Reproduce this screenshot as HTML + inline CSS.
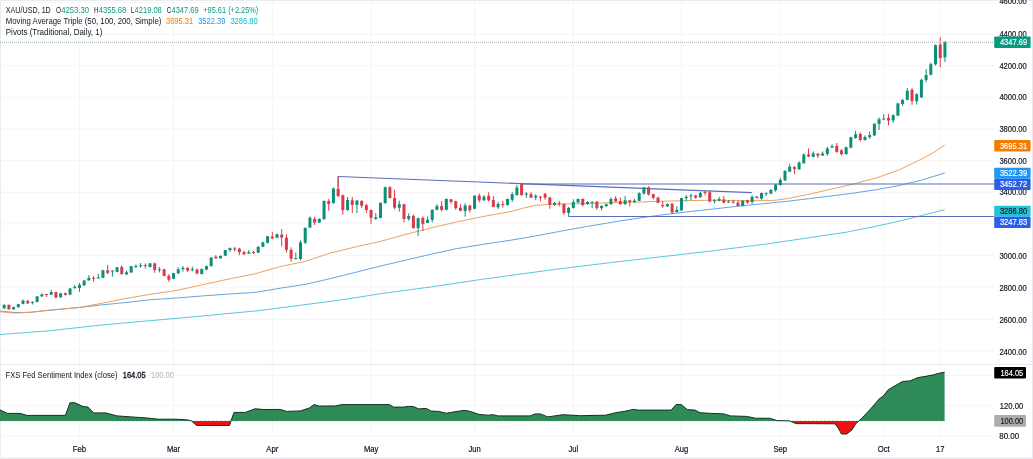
<!DOCTYPE html>
<html><head><meta charset="utf-8"><title>XAU/USD chart</title>
<style>html,body{margin:0;padding:0;background:#fff;}body{width:1033px;height:459px;overflow:hidden;}svg{display:block;will-change:transform}</style>
</head><body>
<svg width="1033" height="459" viewBox="0 0 1033 459" font-family='"Liberation Sans", Arial, sans-serif'>
<rect width="1033" height="459" fill="#ffffff"/>
<g stroke="#f5f5f6" stroke-width="1">
<line x1="0" y1="350.9" x2="993.5" y2="350.9"/>
<line x1="0" y1="319.4" x2="993.5" y2="319.4"/>
<line x1="0" y1="287.2" x2="993.5" y2="287.2"/>
<line x1="0" y1="255.6" x2="993.5" y2="255.6"/>
<line x1="0" y1="223.9" x2="993.5" y2="223.9"/>
<line x1="0" y1="192.3" x2="993.5" y2="192.3"/>
<line x1="0" y1="160.7" x2="993.5" y2="160.7"/>
<line x1="0" y1="129.0" x2="993.5" y2="129.0"/>
<line x1="0" y1="97.4" x2="993.5" y2="97.4"/>
<line x1="0" y1="65.8" x2="993.5" y2="65.8"/>
<line x1="0" y1="34.1" x2="993.5" y2="34.1"/>
<line x1="0" y1="2.5" x2="993.5" y2="2.5"/>
<line x1="0" y1="375.3" x2="993.5" y2="375.3"/>
<line x1="0" y1="405.4" x2="993.5" y2="405.4"/>
<line x1="0" y1="436.2" x2="993.5" y2="436.2"/>
<line x1="79.4" y1="0" x2="79.4" y2="437"/>
<line x1="173.5" y1="0" x2="173.5" y2="437"/>
<line x1="272.3" y1="0" x2="272.3" y2="437"/>
<line x1="371.1" y1="0" x2="371.1" y2="437"/>
<line x1="474.6" y1="0" x2="474.6" y2="437"/>
<line x1="573.3" y1="0" x2="573.3" y2="437"/>
<line x1="681.5" y1="0" x2="681.5" y2="437"/>
<line x1="780.3" y1="0" x2="780.3" y2="437"/>
<line x1="883.8" y1="0" x2="883.8" y2="437"/>
<line x1="940.2" y1="0" x2="940.2" y2="437"/>
</g>
<line x1="0" y1="364.5" x2="1033" y2="364.5" stroke="#eaebee" stroke-width="1"/>
<g fill="#e9ebef">
<rect x="0" y="0" width="1033" height="1"/>
<rect x="0" y="0" width="1" height="459"/>
<rect x="1032" y="0" width="1" height="459"/>
<rect x="0" y="457.5" width="1033" height="1.5"/>
</g>
<polyline points="0.0,334.5 50.3,330.7 100.7,325.1 151.0,320.6 201.4,316.1 260.0,310.5 340.6,300.0 380.8,293.7 431.2,286.9 481.5,279.4 515.0,274.8 560.3,268.7 610.7,262.6 661.0,256.8 711.4,251.0 770.0,243.5 847.4,232.0 876.4,226.2 898.6,221.3 920.9,215.7 944.7,209.7" fill="none" stroke="#48bfd4" stroke-width="0.9" stroke-linejoin="round" />
<polyline points="0.0,311.0 15.0,312.6 30.2,312.3 50.3,310.2 79.3,307.5 100.7,305.0 125.9,302.5 151.0,299.7 176.2,298.0 201.4,296.0 226.5,294.2 255.0,292.4 280.2,288.2 305.3,284.4 330.5,278.6 355.7,272.3 380.8,266.0 406.0,260.0 431.2,254.2 456.4,248.7 481.5,244.6 512.0,240.0 535.2,236.0 560.3,231.3 585.5,226.7 610.7,222.5 635.9,218.5 661.0,215.0 686.2,212.0 711.4,209.2 736.5,206.4 765.0,203.5 787.3,201.3 809.5,198.6 831.8,195.9 854.1,193.0 876.4,189.7 898.6,185.6 920.9,180.3 944.7,173.0" fill="none" stroke="#559ade" stroke-width="0.9" stroke-linejoin="round" />
<polyline points="0.0,311.8 15.1,313.1 30.2,312.3 50.3,310.0 79.3,307.5 100.7,303.5 125.9,298.5 151.0,294.2 176.2,290.5 201.4,285.0 226.5,279.5 255.0,273.8 280.2,266.6 305.3,261.3 330.5,253.0 355.7,246.9 380.8,241.3 406.0,234.3 431.2,227.9 456.4,222.0 481.5,216.8 511.0,211.5 522.6,208.3 535.2,205.4 547.8,204.5 560.3,204.0 585.5,203.5 610.7,202.7 635.9,202.2 661.0,201.2 686.2,200.7 711.4,200.2 736.5,200.6 765.0,200.7 776.1,200.2 787.3,198.6 809.5,194.1 831.8,189.0 854.1,183.9 876.4,177.9 898.6,170.1 920.9,159.4 932.0,153.4 944.7,145.1" fill="none" stroke="#ec954c" stroke-width="0.9" stroke-linejoin="round" />
<g stroke="#5a6ebc" stroke-width="1.1" fill="none">
<line x1="338.1" y1="176.5" x2="751.9" y2="192.6"/>
<line x1="338.1" y1="176.5" x2="338.1" y2="188"/>
<line x1="521.7" y1="184.0" x2="994.5" y2="184.0"/>
<line x1="568.5" y1="216.5" x2="994.5" y2="216.5"/>
</g>
<g shape-rendering="auto">
<rect x="3.69" y="304.1" width="1" height="4.7" fill="#0a8f78"/>
<rect x="2.69" y="304.9" width="3.0" height="3.5" fill="#0a8f78"/>
<rect x="8.39" y="304.5" width="1" height="5.2" fill="#dc3847"/>
<rect x="7.39" y="304.9" width="3.0" height="4.4" fill="#dc3847"/>
<rect x="13.09" y="306.7" width="1" height="3.1" fill="#0a8f78"/>
<rect x="12.09" y="307.1" width="3.0" height="2.2" fill="#0a8f78"/>
<rect x="17.80" y="303.8" width="1" height="3.9" fill="#0a8f78"/>
<rect x="16.80" y="304.1" width="3.0" height="3.0" fill="#0a8f78"/>
<rect x="22.50" y="299.6" width="1" height="4.8" fill="#0a8f78"/>
<rect x="21.50" y="300.6" width="3.0" height="3.3" fill="#0a8f78"/>
<rect x="27.20" y="300.2" width="1" height="3.7" fill="#dc3847"/>
<rect x="26.20" y="300.8" width="3.0" height="2.6" fill="#dc3847"/>
<rect x="31.91" y="301.2" width="1" height="3.3" fill="#0a8f78"/>
<rect x="30.91" y="302.0" width="3.0" height="1.0" fill="#0a8f78"/>
<rect x="36.61" y="296.0" width="1" height="6.5" fill="#0a8f78"/>
<rect x="35.61" y="296.4" width="3.0" height="5.5" fill="#0a8f78"/>
<rect x="41.32" y="293.4" width="1" height="3.4" fill="#0a8f78"/>
<rect x="40.32" y="294.4" width="3.0" height="2.0" fill="#0a8f78"/>
<rect x="46.02" y="294.0" width="1" height="3.0" fill="#dc3847"/>
<rect x="45.02" y="294.0" width="3.0" height="1.0" fill="#dc3847"/>
<rect x="50.72" y="289.7" width="1" height="5.2" fill="#0a8f78"/>
<rect x="49.72" y="292.1" width="3.0" height="2.6" fill="#0a8f78"/>
<rect x="55.43" y="291.8" width="1" height="6.0" fill="#dc3847"/>
<rect x="54.43" y="292.1" width="3.0" height="5.5" fill="#dc3847"/>
<rect x="60.13" y="292.8" width="1" height="5.0" fill="#0a8f78"/>
<rect x="59.13" y="293.4" width="3.0" height="3.9" fill="#0a8f78"/>
<rect x="64.83" y="292.6" width="1" height="2.9" fill="#dc3847"/>
<rect x="63.83" y="293.1" width="3.0" height="1.8" fill="#dc3847"/>
<rect x="69.54" y="288.1" width="1" height="7.1" fill="#0a8f78"/>
<rect x="68.54" y="288.5" width="3.0" height="6.1" fill="#0a8f78"/>
<rect x="74.24" y="284.9" width="1" height="3.7" fill="#0a8f78"/>
<rect x="73.24" y="286.8" width="3.0" height="1.3" fill="#0a8f78"/>
<rect x="78.95" y="282.9" width="1" height="8.9" fill="#0a8f78"/>
<rect x="77.95" y="284.9" width="3.0" height="3.0" fill="#0a8f78"/>
<rect x="83.65" y="280.0" width="1" height="6.1" fill="#0a8f78"/>
<rect x="82.65" y="280.6" width="3.0" height="4.7" fill="#0a8f78"/>
<rect x="88.35" y="275.1" width="1" height="5.6" fill="#0a8f78"/>
<rect x="87.35" y="277.9" width="3.0" height="2.4" fill="#0a8f78"/>
<rect x="93.06" y="276.1" width="1" height="5.5" fill="#dc3847"/>
<rect x="92.06" y="277.8" width="3.0" height="1.0" fill="#dc3847"/>
<rect x="97.76" y="273.8" width="1" height="4.8" fill="#0a8f78"/>
<rect x="96.76" y="277.5" width="3.0" height="1.0" fill="#0a8f78"/>
<rect x="102.46" y="269.9" width="1" height="8.2" fill="#0a8f78"/>
<rect x="101.46" y="270.3" width="3.0" height="7.5" fill="#0a8f78"/>
<rect x="107.17" y="264.9" width="1" height="9.2" fill="#dc3847"/>
<rect x="106.17" y="270.2" width="3.0" height="2.6" fill="#dc3847"/>
<rect x="111.87" y="270.4" width="1" height="6.3" fill="#0a8f78"/>
<rect x="110.87" y="270.5" width="3.0" height="1.0" fill="#0a8f78"/>
<rect x="116.57" y="266.9" width="1" height="5.4" fill="#0a8f78"/>
<rect x="115.57" y="267.3" width="3.0" height="4.6" fill="#0a8f78"/>
<rect x="121.28" y="265.3" width="1" height="9.3" fill="#dc3847"/>
<rect x="120.28" y="267.0" width="3.0" height="7.1" fill="#dc3847"/>
<rect x="125.98" y="270.7" width="1" height="3.9" fill="#0a8f78"/>
<rect x="124.98" y="272.3" width="3.0" height="2.2" fill="#0a8f78"/>
<rect x="130.69" y="266.0" width="1" height="6.8" fill="#0a8f78"/>
<rect x="129.69" y="266.2" width="3.0" height="6.3" fill="#0a8f78"/>
<rect x="135.39" y="264.4" width="1" height="3.7" fill="#0a8f78"/>
<rect x="134.39" y="265.9" width="3.0" height="1.0" fill="#0a8f78"/>
<rect x="140.09" y="263.1" width="1" height="4.4" fill="#0a8f78"/>
<rect x="139.09" y="265.2" width="3.0" height="1.0" fill="#0a8f78"/>
<rect x="144.80" y="263.4" width="1" height="5.2" fill="#dc3847"/>
<rect x="143.80" y="265.0" width="3.0" height="1.0" fill="#dc3847"/>
<rect x="149.50" y="263.0" width="1" height="4.3" fill="#0a8f78"/>
<rect x="148.50" y="263.4" width="3.0" height="3.7" fill="#0a8f78"/>
<rect x="154.20" y="262.8" width="1" height="9.9" fill="#dc3847"/>
<rect x="153.20" y="263.4" width="3.0" height="6.5" fill="#dc3847"/>
<rect x="158.91" y="267.0" width="1" height="5.5" fill="#0a8f78"/>
<rect x="157.91" y="269.3" width="3.0" height="1.0" fill="#0a8f78"/>
<rect x="163.61" y="268.9" width="1" height="7.6" fill="#dc3847"/>
<rect x="162.61" y="269.3" width="3.0" height="6.5" fill="#dc3847"/>
<rect x="168.32" y="274.1" width="1" height="7.6" fill="#dc3847"/>
<rect x="167.32" y="275.9" width="3.0" height="3.8" fill="#dc3847"/>
<rect x="173.02" y="272.8" width="1" height="6.3" fill="#0a8f78"/>
<rect x="172.02" y="273.2" width="3.0" height="5.5" fill="#0a8f78"/>
<rect x="177.72" y="267.3" width="1" height="6.8" fill="#0a8f78"/>
<rect x="176.72" y="269.3" width="3.0" height="3.9" fill="#0a8f78"/>
<rect x="182.43" y="266.2" width="1" height="5.4" fill="#0a8f78"/>
<rect x="181.43" y="267.8" width="3.0" height="1.3" fill="#0a8f78"/>
<rect x="187.13" y="267.0" width="1" height="5.2" fill="#dc3847"/>
<rect x="186.13" y="267.9" width="3.0" height="2.7" fill="#dc3847"/>
<rect x="191.83" y="266.6" width="1" height="4.8" fill="#0a8f78"/>
<rect x="190.83" y="269.2" width="3.0" height="1.0" fill="#0a8f78"/>
<rect x="196.54" y="268.3" width="1" height="6.1" fill="#dc3847"/>
<rect x="195.54" y="269.6" width="3.0" height="3.9" fill="#dc3847"/>
<rect x="201.24" y="268.6" width="1" height="5.9" fill="#0a8f78"/>
<rect x="200.24" y="269.0" width="3.0" height="5.0" fill="#0a8f78"/>
<rect x="205.95" y="265.5" width="1" height="4.6" fill="#0a8f78"/>
<rect x="204.95" y="266.1" width="3.0" height="3.5" fill="#0a8f78"/>
<rect x="210.65" y="257.2" width="1" height="9.4" fill="#0a8f78"/>
<rect x="209.65" y="257.6" width="3.0" height="8.5" fill="#0a8f78"/>
<rect x="215.35" y="255.1" width="1" height="3.7" fill="#dc3847"/>
<rect x="214.35" y="256.7" width="3.0" height="1.6" fill="#dc3847"/>
<rect x="220.06" y="255.5" width="1" height="3.0" fill="#0a8f78"/>
<rect x="219.06" y="255.9" width="3.0" height="2.4" fill="#0a8f78"/>
<rect x="224.76" y="249.8" width="1" height="6.4" fill="#0a8f78"/>
<rect x="223.76" y="250.0" width="3.0" height="5.6" fill="#0a8f78"/>
<rect x="229.46" y="247.5" width="1" height="4.2" fill="#0a8f78"/>
<rect x="228.46" y="248.1" width="3.0" height="2.0" fill="#0a8f78"/>
<rect x="234.17" y="247.0" width="1" height="4.4" fill="#dc3847"/>
<rect x="233.17" y="248.5" width="3.0" height="1.0" fill="#dc3847"/>
<rect x="238.87" y="247.8" width="1" height="7.3" fill="#dc3847"/>
<rect x="237.87" y="248.7" width="3.0" height="3.5" fill="#dc3847"/>
<rect x="243.57" y="250.7" width="1" height="4.4" fill="#dc3847"/>
<rect x="242.57" y="252.2" width="3.0" height="2.1" fill="#dc3847"/>
<rect x="248.28" y="250.0" width="1" height="3.8" fill="#0a8f78"/>
<rect x="247.28" y="252.2" width="3.0" height="1.3" fill="#0a8f78"/>
<rect x="252.98" y="250.9" width="1" height="3.0" fill="#dc3847"/>
<rect x="251.98" y="252.1" width="3.0" height="1.0" fill="#dc3847"/>
<rect x="257.69" y="246.2" width="1" height="6.8" fill="#0a8f78"/>
<rect x="256.69" y="246.8" width="3.0" height="5.9" fill="#0a8f78"/>
<rect x="262.39" y="241.8" width="1" height="5.5" fill="#0a8f78"/>
<rect x="261.39" y="242.3" width="3.0" height="4.4" fill="#0a8f78"/>
<rect x="267.09" y="235.9" width="1" height="7.6" fill="#0a8f78"/>
<rect x="266.09" y="236.3" width="3.0" height="6.5" fill="#0a8f78"/>
<rect x="271.80" y="232.1" width="1" height="7.1" fill="#dc3847"/>
<rect x="270.80" y="236.6" width="3.0" height="1.8" fill="#dc3847"/>
<rect x="276.50" y="233.4" width="1" height="4.8" fill="#0a8f78"/>
<rect x="275.50" y="234.3" width="3.0" height="3.5" fill="#0a8f78"/>
<rect x="281.20" y="229.1" width="1" height="17.4" fill="#dc3847"/>
<rect x="280.20" y="234.6" width="3.0" height="3.0" fill="#dc3847"/>
<rect x="285.91" y="234.2" width="1" height="18.3" fill="#dc3847"/>
<rect x="284.91" y="237.7" width="3.0" height="12.2" fill="#dc3847"/>
<rect x="290.61" y="247.3" width="1" height="14.4" fill="#dc3847"/>
<rect x="289.61" y="249.9" width="3.0" height="8.8" fill="#dc3847"/>
<rect x="295.32" y="252.5" width="1" height="6.9" fill="#0a8f78"/>
<rect x="294.32" y="258.1" width="3.0" height="1.0" fill="#0a8f78"/>
<rect x="300.02" y="240.3" width="1" height="20.0" fill="#0a8f78"/>
<rect x="299.02" y="242.4" width="3.0" height="16.6" fill="#0a8f78"/>
<rect x="304.72" y="227.4" width="1" height="16.6" fill="#0a8f78"/>
<rect x="303.72" y="227.9" width="3.0" height="14.8" fill="#0a8f78"/>
<rect x="309.43" y="216.5" width="1" height="11.5" fill="#0a8f78"/>
<rect x="308.43" y="217.8" width="3.0" height="9.8" fill="#0a8f78"/>
<rect x="314.13" y="216.6" width="1" height="8.4" fill="#dc3847"/>
<rect x="313.13" y="218.9" width="3.0" height="3.7" fill="#dc3847"/>
<rect x="318.83" y="218.3" width="1" height="4.7" fill="#0a8f78"/>
<rect x="317.83" y="218.9" width="3.0" height="3.7" fill="#0a8f78"/>
<rect x="323.54" y="200.6" width="1" height="19.1" fill="#0a8f78"/>
<rect x="322.54" y="200.9" width="3.0" height="18.3" fill="#0a8f78"/>
<rect x="328.24" y="199.0" width="1" height="11.8" fill="#dc3847"/>
<rect x="327.24" y="200.9" width="3.0" height="3.0" fill="#dc3847"/>
<rect x="332.94" y="187.5" width="1" height="16.2" fill="#0a8f78"/>
<rect x="331.94" y="188.5" width="3.0" height="14.6" fill="#0a8f78"/>
<rect x="337.65" y="176.5" width="1" height="20.5" fill="#dc3847"/>
<rect x="336.65" y="188.8" width="3.0" height="7.3" fill="#dc3847"/>
<rect x="342.35" y="194.4" width="1" height="20.3" fill="#dc3847"/>
<rect x="341.35" y="195.3" width="3.0" height="14.8" fill="#dc3847"/>
<rect x="347.06" y="197.0" width="1" height="13.7" fill="#0a8f78"/>
<rect x="346.06" y="200.0" width="3.0" height="10.1" fill="#0a8f78"/>
<rect x="351.76" y="197.0" width="1" height="16.1" fill="#dc3847"/>
<rect x="350.76" y="200.3" width="3.0" height="4.6" fill="#dc3847"/>
<rect x="356.46" y="200.0" width="1" height="13.1" fill="#0a8f78"/>
<rect x="355.46" y="200.6" width="3.0" height="4.3" fill="#0a8f78"/>
<rect x="361.17" y="200.3" width="1" height="7.6" fill="#dc3847"/>
<rect x="360.17" y="200.9" width="3.0" height="4.8" fill="#dc3847"/>
<rect x="365.87" y="203.6" width="1" height="9.2" fill="#dc3847"/>
<rect x="364.87" y="205.3" width="3.0" height="4.8" fill="#dc3847"/>
<rect x="370.57" y="209.4" width="1" height="14.4" fill="#dc3847"/>
<rect x="369.57" y="210.1" width="3.0" height="7.8" fill="#dc3847"/>
<rect x="375.28" y="213.1" width="1" height="6.8" fill="#0a8f78"/>
<rect x="374.28" y="217.3" width="3.0" height="1.6" fill="#0a8f78"/>
<rect x="379.98" y="202.4" width="1" height="15.9" fill="#0a8f78"/>
<rect x="378.98" y="202.9" width="3.0" height="15.0" fill="#0a8f78"/>
<rect x="384.69" y="186.7" width="1" height="17.0" fill="#0a8f78"/>
<rect x="383.69" y="187.2" width="3.0" height="15.9" fill="#0a8f78"/>
<rect x="389.39" y="186.3" width="1" height="12.3" fill="#dc3847"/>
<rect x="388.39" y="187.2" width="3.0" height="10.8" fill="#dc3847"/>
<rect x="394.09" y="189.8" width="1" height="19.6" fill="#dc3847"/>
<rect x="393.09" y="198.0" width="3.0" height="9.7" fill="#dc3847"/>
<rect x="398.80" y="200.7" width="1" height="11.0" fill="#0a8f78"/>
<rect x="397.80" y="204.2" width="3.0" height="3.5" fill="#0a8f78"/>
<rect x="403.50" y="203.8" width="1" height="18.7" fill="#dc3847"/>
<rect x="402.50" y="204.2" width="3.0" height="14.8" fill="#dc3847"/>
<rect x="408.20" y="213.3" width="1" height="7.5" fill="#0a8f78"/>
<rect x="407.20" y="215.9" width="3.0" height="3.0" fill="#0a8f78"/>
<rect x="412.91" y="214.6" width="1" height="14.0" fill="#dc3847"/>
<rect x="411.91" y="215.9" width="3.0" height="12.2" fill="#dc3847"/>
<rect x="417.61" y="217.6" width="1" height="18.3" fill="#0a8f78"/>
<rect x="416.61" y="218.2" width="3.0" height="9.9" fill="#0a8f78"/>
<rect x="422.32" y="216.3" width="1" height="14.6" fill="#dc3847"/>
<rect x="421.32" y="217.9" width="3.0" height="5.9" fill="#dc3847"/>
<rect x="427.02" y="216.6" width="1" height="6.5" fill="#0a8f78"/>
<rect x="426.02" y="219.9" width="3.0" height="3.0" fill="#0a8f78"/>
<rect x="431.72" y="209.4" width="1" height="13.1" fill="#0a8f78"/>
<rect x="430.72" y="209.8" width="3.0" height="10.1" fill="#0a8f78"/>
<rect x="436.43" y="204.2" width="1" height="6.1" fill="#0a8f78"/>
<rect x="435.43" y="206.1" width="3.0" height="3.7" fill="#0a8f78"/>
<rect x="441.13" y="201.2" width="1" height="10.2" fill="#dc3847"/>
<rect x="440.13" y="206.1" width="3.0" height="3.7" fill="#dc3847"/>
<rect x="445.83" y="198.3" width="1" height="12.0" fill="#0a8f78"/>
<rect x="444.83" y="199.0" width="3.0" height="10.8" fill="#0a8f78"/>
<rect x="450.54" y="199.0" width="1" height="4.8" fill="#dc3847"/>
<rect x="449.54" y="199.3" width="3.0" height="2.6" fill="#dc3847"/>
<rect x="455.24" y="200.7" width="1" height="9.2" fill="#dc3847"/>
<rect x="454.24" y="201.2" width="3.0" height="6.9" fill="#dc3847"/>
<rect x="459.94" y="204.2" width="1" height="7.2" fill="#dc3847"/>
<rect x="458.94" y="207.7" width="3.0" height="3.0" fill="#dc3847"/>
<rect x="464.65" y="203.3" width="1" height="13.3" fill="#0a8f78"/>
<rect x="463.65" y="205.5" width="3.0" height="5.6" fill="#0a8f78"/>
<rect x="469.35" y="204.8" width="1" height="7.6" fill="#dc3847"/>
<rect x="468.35" y="205.5" width="3.0" height="4.6" fill="#dc3847"/>
<rect x="474.06" y="195.2" width="1" height="14.1" fill="#0a8f78"/>
<rect x="473.06" y="195.7" width="3.0" height="13.1" fill="#0a8f78"/>
<rect x="478.76" y="193.5" width="1" height="8.9" fill="#dc3847"/>
<rect x="477.76" y="195.5" width="3.0" height="4.8" fill="#dc3847"/>
<rect x="483.46" y="195.1" width="1" height="5.8" fill="#0a8f78"/>
<rect x="482.46" y="196.8" width="3.0" height="3.5" fill="#0a8f78"/>
<rect x="488.17" y="192.2" width="1" height="9.2" fill="#dc3847"/>
<rect x="487.17" y="195.9" width="3.0" height="4.4" fill="#dc3847"/>
<rect x="492.87" y="196.1" width="1" height="11.1" fill="#dc3847"/>
<rect x="491.87" y="200.1" width="3.0" height="6.8" fill="#dc3847"/>
<rect x="497.57" y="202.0" width="1" height="6.9" fill="#0a8f78"/>
<rect x="496.57" y="204.0" width="3.0" height="3.3" fill="#0a8f78"/>
<rect x="502.28" y="200.7" width="1" height="6.9" fill="#dc3847"/>
<rect x="501.28" y="204.0" width="3.0" height="1.0" fill="#dc3847"/>
<rect x="506.98" y="198.5" width="1" height="7.1" fill="#0a8f78"/>
<rect x="505.98" y="199.0" width="3.0" height="6.0" fill="#0a8f78"/>
<rect x="511.69" y="192.2" width="1" height="9.8" fill="#0a8f78"/>
<rect x="510.69" y="194.2" width="3.0" height="5.6" fill="#0a8f78"/>
<rect x="516.39" y="185.0" width="1" height="10.6" fill="#0a8f78"/>
<rect x="515.39" y="187.6" width="3.0" height="7.5" fill="#0a8f78"/>
<rect x="521.09" y="183.3" width="1" height="12.3" fill="#dc3847"/>
<rect x="520.09" y="184.1" width="3.0" height="11.0" fill="#dc3847"/>
<rect x="525.80" y="192.0" width="1" height="5.8" fill="#0a8f78"/>
<rect x="524.80" y="193.7" width="3.0" height="1.0" fill="#0a8f78"/>
<rect x="530.50" y="192.2" width="1" height="5.9" fill="#dc3847"/>
<rect x="529.50" y="194.2" width="3.0" height="3.5" fill="#dc3847"/>
<rect x="535.20" y="194.2" width="1" height="5.9" fill="#0a8f78"/>
<rect x="534.20" y="195.9" width="3.0" height="1.6" fill="#0a8f78"/>
<rect x="539.91" y="196.1" width="1" height="5.2" fill="#dc3847"/>
<rect x="538.91" y="196.6" width="3.0" height="1.0" fill="#dc3847"/>
<rect x="544.61" y="192.9" width="1" height="6.9" fill="#dc3847"/>
<rect x="543.61" y="193.8" width="3.0" height="3.9" fill="#dc3847"/>
<rect x="549.32" y="196.9" width="1" height="11.8" fill="#dc3847"/>
<rect x="548.32" y="197.5" width="3.0" height="7.2" fill="#dc3847"/>
<rect x="554.02" y="202.0" width="1" height="3.9" fill="#0a8f78"/>
<rect x="553.02" y="202.9" width="3.0" height="1.7" fill="#0a8f78"/>
<rect x="558.72" y="200.7" width="1" height="5.6" fill="#dc3847"/>
<rect x="557.72" y="203.3" width="3.0" height="1.0" fill="#dc3847"/>
<rect x="563.43" y="203.5" width="1" height="11.6" fill="#dc3847"/>
<rect x="562.43" y="204.0" width="3.0" height="8.9" fill="#dc3847"/>
<rect x="568.13" y="206.9" width="1" height="9.5" fill="#0a8f78"/>
<rect x="567.13" y="207.9" width="3.0" height="5.0" fill="#0a8f78"/>
<rect x="572.83" y="199.4" width="1" height="9.2" fill="#0a8f78"/>
<rect x="571.83" y="202.0" width="3.0" height="5.9" fill="#0a8f78"/>
<rect x="577.54" y="198.5" width="1" height="4.4" fill="#0a8f78"/>
<rect x="576.54" y="199.0" width="3.0" height="3.4" fill="#0a8f78"/>
<rect x="582.24" y="198.1" width="1" height="8.2" fill="#dc3847"/>
<rect x="581.24" y="199.0" width="3.0" height="6.0" fill="#dc3847"/>
<rect x="586.94" y="201.1" width="1" height="3.7" fill="#0a8f78"/>
<rect x="585.94" y="202.0" width="3.0" height="2.2" fill="#0a8f78"/>
<rect x="591.65" y="201.4" width="1" height="6.8" fill="#0a8f78"/>
<rect x="590.65" y="201.7" width="3.0" height="1.0" fill="#0a8f78"/>
<rect x="596.35" y="201.1" width="1" height="8.8" fill="#dc3847"/>
<rect x="595.35" y="201.6" width="3.0" height="6.5" fill="#dc3847"/>
<rect x="601.06" y="205.3" width="1" height="5.2" fill="#0a8f78"/>
<rect x="600.06" y="205.9" width="3.0" height="2.2" fill="#0a8f78"/>
<rect x="605.76" y="203.7" width="1" height="3.1" fill="#0a8f78"/>
<rect x="604.76" y="204.2" width="3.0" height="2.1" fill="#0a8f78"/>
<rect x="610.46" y="197.2" width="1" height="7.6" fill="#0a8f78"/>
<rect x="609.46" y="199.0" width="3.0" height="5.2" fill="#0a8f78"/>
<rect x="615.17" y="196.1" width="1" height="5.8" fill="#dc3847"/>
<rect x="614.17" y="198.5" width="3.0" height="2.9" fill="#dc3847"/>
<rect x="619.87" y="197.5" width="1" height="7.3" fill="#dc3847"/>
<rect x="618.87" y="201.1" width="3.0" height="3.1" fill="#dc3847"/>
<rect x="624.57" y="196.1" width="1" height="8.6" fill="#0a8f78"/>
<rect x="623.57" y="200.3" width="3.0" height="3.9" fill="#0a8f78"/>
<rect x="629.28" y="199.8" width="1" height="6.5" fill="#dc3847"/>
<rect x="628.28" y="200.3" width="3.0" height="1.7" fill="#dc3847"/>
<rect x="633.98" y="199.0" width="1" height="3.7" fill="#0a8f78"/>
<rect x="632.98" y="200.7" width="3.0" height="1.3" fill="#0a8f78"/>
<rect x="638.69" y="192.2" width="1" height="8.9" fill="#0a8f78"/>
<rect x="637.69" y="193.3" width="3.0" height="7.5" fill="#0a8f78"/>
<rect x="643.39" y="187.0" width="1" height="7.8" fill="#0a8f78"/>
<rect x="642.39" y="187.4" width="3.0" height="6.1" fill="#0a8f78"/>
<rect x="648.09" y="186.3" width="1" height="9.2" fill="#dc3847"/>
<rect x="647.09" y="187.4" width="3.0" height="7.2" fill="#dc3847"/>
<rect x="652.80" y="193.8" width="1" height="5.6" fill="#dc3847"/>
<rect x="651.80" y="194.2" width="3.0" height="3.5" fill="#dc3847"/>
<rect x="657.50" y="196.8" width="1" height="6.5" fill="#dc3847"/>
<rect x="656.50" y="197.5" width="3.0" height="5.2" fill="#dc3847"/>
<rect x="662.20" y="201.4" width="1" height="6.3" fill="#dc3847"/>
<rect x="661.20" y="205.0" width="3.0" height="1.3" fill="#dc3847"/>
<rect x="666.91" y="203.3" width="1" height="3.5" fill="#0a8f78"/>
<rect x="665.91" y="204.0" width="3.0" height="2.4" fill="#0a8f78"/>
<rect x="671.61" y="203.2" width="1" height="10.6" fill="#dc3847"/>
<rect x="670.61" y="203.7" width="3.0" height="8.8" fill="#dc3847"/>
<rect x="676.32" y="206.3" width="1" height="6.1" fill="#0a8f78"/>
<rect x="675.32" y="209.9" width="3.0" height="2.2" fill="#0a8f78"/>
<rect x="681.02" y="197.7" width="1" height="13.1" fill="#0a8f78"/>
<rect x="680.02" y="198.1" width="3.0" height="12.2" fill="#0a8f78"/>
<rect x="685.72" y="195.1" width="1" height="6.3" fill="#0a8f78"/>
<rect x="684.72" y="196.8" width="3.0" height="1.3" fill="#0a8f78"/>
<rect x="690.43" y="193.8" width="1" height="6.5" fill="#0a8f78"/>
<rect x="689.43" y="195.3" width="3.0" height="1.0" fill="#0a8f78"/>
<rect x="695.13" y="194.8" width="1" height="3.9" fill="#dc3847"/>
<rect x="694.13" y="195.5" width="3.0" height="2.2" fill="#dc3847"/>
<rect x="699.83" y="192.0" width="1" height="5.8" fill="#0a8f78"/>
<rect x="698.83" y="192.9" width="3.0" height="4.3" fill="#0a8f78"/>
<rect x="704.54" y="190.9" width="1" height="4.6" fill="#dc3847"/>
<rect x="703.54" y="191.9" width="3.0" height="1.0" fill="#dc3847"/>
<rect x="709.24" y="190.7" width="1" height="11.5" fill="#dc3847"/>
<rect x="708.24" y="192.2" width="3.0" height="9.4" fill="#dc3847"/>
<rect x="713.94" y="199.0" width="1" height="4.3" fill="#0a8f78"/>
<rect x="712.94" y="200.3" width="3.0" height="1.0" fill="#0a8f78"/>
<rect x="718.65" y="196.8" width="1" height="4.6" fill="#0a8f78"/>
<rect x="717.65" y="199.0" width="3.0" height="1.7" fill="#0a8f78"/>
<rect x="723.35" y="196.1" width="1" height="7.1" fill="#dc3847"/>
<rect x="722.35" y="199.4" width="3.0" height="3.3" fill="#dc3847"/>
<rect x="728.06" y="200.1" width="1" height="2.6" fill="#0a8f78"/>
<rect x="727.06" y="201.5" width="3.0" height="1.0" fill="#0a8f78"/>
<rect x="732.76" y="199.8" width="1" height="3.9" fill="#dc3847"/>
<rect x="731.76" y="201.5" width="3.0" height="1.0" fill="#dc3847"/>
<rect x="737.46" y="200.3" width="1" height="6.0" fill="#dc3847"/>
<rect x="736.46" y="202.7" width="3.0" height="3.3" fill="#dc3847"/>
<rect x="742.17" y="200.3" width="1" height="6.0" fill="#0a8f78"/>
<rect x="741.17" y="200.7" width="3.0" height="5.2" fill="#0a8f78"/>
<rect x="746.87" y="199.8" width="1" height="3.9" fill="#dc3847"/>
<rect x="745.87" y="200.3" width="3.0" height="2.4" fill="#dc3847"/>
<rect x="751.57" y="195.5" width="1" height="8.8" fill="#0a8f78"/>
<rect x="750.57" y="196.8" width="3.0" height="5.2" fill="#0a8f78"/>
<rect x="756.28" y="196.1" width="1" height="2.3" fill="#dc3847"/>
<rect x="755.28" y="196.7" width="3.0" height="1.2" fill="#dc3847"/>
<rect x="760.98" y="192.6" width="1" height="7.2" fill="#0a8f78"/>
<rect x="759.98" y="193.0" width="3.0" height="5.6" fill="#0a8f78"/>
<rect x="765.69" y="192.6" width="1" height="3.5" fill="#0a8f78"/>
<rect x="764.69" y="192.9" width="3.0" height="1.0" fill="#0a8f78"/>
<rect x="770.39" y="189.1" width="1" height="5.0" fill="#0a8f78"/>
<rect x="769.39" y="190.0" width="3.0" height="3.7" fill="#0a8f78"/>
<rect x="775.09" y="183.9" width="1" height="7.9" fill="#0a8f78"/>
<rect x="774.09" y="184.5" width="3.0" height="5.8" fill="#0a8f78"/>
<rect x="779.80" y="178.1" width="1" height="7.6" fill="#0a8f78"/>
<rect x="778.80" y="179.9" width="3.0" height="5.0" fill="#0a8f78"/>
<rect x="784.50" y="170.2" width="1" height="10.7" fill="#0a8f78"/>
<rect x="783.50" y="170.9" width="3.0" height="9.5" fill="#0a8f78"/>
<rect x="789.20" y="163.6" width="1" height="8.4" fill="#0a8f78"/>
<rect x="788.20" y="166.7" width="3.0" height="4.9" fill="#0a8f78"/>
<rect x="793.91" y="166.2" width="1" height="8.1" fill="#dc3847"/>
<rect x="792.91" y="167.1" width="3.0" height="1.8" fill="#dc3847"/>
<rect x="798.61" y="161.3" width="1" height="8.5" fill="#0a8f78"/>
<rect x="797.61" y="162.6" width="3.0" height="6.7" fill="#0a8f78"/>
<rect x="803.32" y="153.4" width="1" height="10.4" fill="#0a8f78"/>
<rect x="802.32" y="154.5" width="3.0" height="8.7" fill="#0a8f78"/>
<rect x="808.02" y="148.4" width="1" height="8.7" fill="#dc3847"/>
<rect x="807.02" y="154.5" width="3.0" height="2.0" fill="#dc3847"/>
<rect x="812.72" y="151.4" width="1" height="5.9" fill="#0a8f78"/>
<rect x="811.72" y="153.4" width="3.0" height="3.4" fill="#0a8f78"/>
<rect x="817.43" y="153.1" width="1" height="4.9" fill="#dc3847"/>
<rect x="816.43" y="153.7" width="3.0" height="2.0" fill="#dc3847"/>
<rect x="822.13" y="151.4" width="1" height="4.6" fill="#0a8f78"/>
<rect x="821.13" y="153.4" width="3.0" height="2.1" fill="#0a8f78"/>
<rect x="826.83" y="146.9" width="1" height="9.1" fill="#0a8f78"/>
<rect x="825.83" y="148.4" width="3.0" height="5.6" fill="#0a8f78"/>
<rect x="831.54" y="144.3" width="1" height="3.7" fill="#0a8f78"/>
<rect x="830.54" y="146.1" width="3.0" height="1.5" fill="#0a8f78"/>
<rect x="836.24" y="143.0" width="1" height="9.9" fill="#dc3847"/>
<rect x="835.24" y="145.8" width="3.0" height="6.1" fill="#dc3847"/>
<rect x="840.94" y="149.1" width="1" height="6.4" fill="#dc3847"/>
<rect x="839.94" y="150.4" width="3.0" height="3.7" fill="#dc3847"/>
<rect x="845.65" y="146.7" width="1" height="8.1" fill="#0a8f78"/>
<rect x="844.65" y="147.2" width="3.0" height="6.9" fill="#0a8f78"/>
<rect x="850.35" y="136.6" width="1" height="11.6" fill="#0a8f78"/>
<rect x="849.35" y="137.3" width="3.0" height="10.4" fill="#0a8f78"/>
<rect x="855.06" y="130.9" width="1" height="7.9" fill="#0a8f78"/>
<rect x="854.06" y="134.2" width="3.0" height="3.8" fill="#0a8f78"/>
<rect x="859.76" y="132.4" width="1" height="9.1" fill="#dc3847"/>
<rect x="858.76" y="133.9" width="3.0" height="6.1" fill="#dc3847"/>
<rect x="864.46" y="135.4" width="1" height="5.2" fill="#0a8f78"/>
<rect x="863.46" y="137.0" width="3.0" height="3.0" fill="#0a8f78"/>
<rect x="869.17" y="131.5" width="1" height="7.3" fill="#0a8f78"/>
<rect x="868.17" y="135.1" width="3.0" height="2.1" fill="#0a8f78"/>
<rect x="873.87" y="123.2" width="1" height="12.8" fill="#0a8f78"/>
<rect x="872.87" y="123.8" width="3.0" height="11.6" fill="#0a8f78"/>
<rect x="878.57" y="117.4" width="1" height="12.5" fill="#0a8f78"/>
<rect x="877.57" y="119.3" width="3.0" height="4.6" fill="#0a8f78"/>
<rect x="883.28" y="114.1" width="1" height="6.1" fill="#0a8f78"/>
<rect x="882.28" y="118.6" width="3.0" height="1.0" fill="#0a8f78"/>
<rect x="887.98" y="114.1" width="1" height="11.3" fill="#dc3847"/>
<rect x="886.98" y="117.9" width="3.0" height="2.6" fill="#dc3847"/>
<rect x="892.69" y="114.4" width="1" height="8.4" fill="#0a8f78"/>
<rect x="891.69" y="115.2" width="3.0" height="5.3" fill="#0a8f78"/>
<rect x="897.39" y="102.8" width="1" height="13.1" fill="#0a8f78"/>
<rect x="896.39" y="103.4" width="3.0" height="12.2" fill="#0a8f78"/>
<rect x="902.09" y="99.1" width="1" height="6.9" fill="#0a8f78"/>
<rect x="901.09" y="99.9" width="3.0" height="4.1" fill="#0a8f78"/>
<rect x="906.80" y="88.1" width="1" height="12.2" fill="#0a8f78"/>
<rect x="905.80" y="90.7" width="3.0" height="9.1" fill="#0a8f78"/>
<rect x="911.50" y="88.1" width="1" height="16.6" fill="#dc3847"/>
<rect x="910.50" y="89.8" width="3.0" height="11.3" fill="#dc3847"/>
<rect x="916.20" y="93.3" width="1" height="11.3" fill="#0a8f78"/>
<rect x="915.20" y="94.2" width="3.0" height="7.0" fill="#0a8f78"/>
<rect x="920.91" y="78.5" width="1" height="19.5" fill="#0a8f78"/>
<rect x="919.91" y="79.9" width="3.0" height="17.4" fill="#0a8f78"/>
<rect x="925.61" y="68.9" width="1" height="13.4" fill="#0a8f78"/>
<rect x="924.61" y="75.0" width="3.0" height="4.9" fill="#0a8f78"/>
<rect x="930.31" y="62.5" width="1" height="12.9" fill="#0a8f78"/>
<rect x="929.31" y="64.2" width="3.0" height="10.5" fill="#0a8f78"/>
<rect x="935.02" y="44.4" width="1" height="21.1" fill="#0a8f78"/>
<rect x="934.02" y="45.1" width="3.0" height="19.2" fill="#0a8f78"/>
<rect x="939.72" y="37.1" width="1" height="30.1" fill="#dc3847"/>
<rect x="938.72" y="44.6" width="3.0" height="13.4" fill="#dc3847"/>
<rect x="944.43" y="41.1" width="1" height="20.9" fill="#0a8f78"/>
<rect x="943.43" y="41.9" width="3.0" height="15.3" fill="#0a8f78"/>
</g>
<line x1="0" y1="42.3" x2="993.5" y2="42.3" stroke="#a3b8b2" stroke-width="1" stroke-dasharray="1 1"/>
<defs><clipPath id="up"><rect x="0" y="360" width="1033" height="60.89999999999998"/></clipPath><clipPath id="dn"><rect x="0" y="420.9" width="1033" height="40"/></clipPath></defs>
<path d="M0,420.9 L0.0,409.9 L7.5,413.4 L20.0,413.4 L27.0,415.4 L65.4,415.4 L70.0,402.8 L75.0,402.8 L83.0,406.6 L88.0,407.1 L93.6,412.9 L105.7,412.9 L117.0,415.9 L131.0,416.9 L146.0,417.9 L158.6,419.2 L176.2,419.2 L187.5,419.9 L191.3,420.9 L196.8,425.5 L229.5,425.5 L231.0,420.9 L234.0,412.4 L245.4,412.4 L255.0,408.8 L265.0,409.6 L280.2,409.4 L286.5,411.4 L300.3,410.9 L309.1,408.1 L314.1,404.6 L319.2,406.1 L335.5,405.9 L341.8,404.6 L389.7,404.6 L393.4,407.1 L403.5,407.1 L408.5,406.4 L413.6,406.6 L418.6,408.9 L426.2,408.4 L431.2,411.1 L438.7,411.4 L446.3,413.2 L453.8,411.9 L463.9,410.4 L469.0,411.1 L479.0,414.4 L487.8,415.2 L492.9,414.7 L497.9,415.9 L530.1,415.9 L535.2,413.9 L540.2,413.9 L547.8,416.9 L562.9,414.7 L580.5,415.7 L605.6,415.2 L615.7,412.7 L625.8,411.1 L633.3,409.4 L638.4,410.1 L671.1,410.1 L676.1,404.6 L681.2,404.6 L687.4,409.6 L695.0,410.1 L700.0,412.7 L711.4,413.4 L723.9,413.9 L730.2,415.9 L746.6,416.4 L755.4,418.2 L770.2,418.3 L776.7,420.6 L789.6,420.9 L796.1,423.6 L835.0,423.8 L838.2,428.0 L841.5,434.0 L846.7,434.0 L851.9,430.0 L855.8,423.6 L858.9,420.9 L864.9,415.0 L871.4,408.0 L879.2,398.9 L883.0,396.3 L888.2,389.8 L894.7,385.9 L902.5,381.5 L910.3,380.8 L918.0,377.6 L925.9,376.3 L933.7,374.8 L940.1,373.0 L944.6,372.2 L944.6,420.9 Z" fill="#2e8b57" clip-path="url(#up)"/>
<path d="M0,420.9 L0.0,409.9 L7.5,413.4 L20.0,413.4 L27.0,415.4 L65.4,415.4 L70.0,402.8 L75.0,402.8 L83.0,406.6 L88.0,407.1 L93.6,412.9 L105.7,412.9 L117.0,415.9 L131.0,416.9 L146.0,417.9 L158.6,419.2 L176.2,419.2 L187.5,419.9 L191.3,420.9 L196.8,425.5 L229.5,425.5 L231.0,420.9 L234.0,412.4 L245.4,412.4 L255.0,408.8 L265.0,409.6 L280.2,409.4 L286.5,411.4 L300.3,410.9 L309.1,408.1 L314.1,404.6 L319.2,406.1 L335.5,405.9 L341.8,404.6 L389.7,404.6 L393.4,407.1 L403.5,407.1 L408.5,406.4 L413.6,406.6 L418.6,408.9 L426.2,408.4 L431.2,411.1 L438.7,411.4 L446.3,413.2 L453.8,411.9 L463.9,410.4 L469.0,411.1 L479.0,414.4 L487.8,415.2 L492.9,414.7 L497.9,415.9 L530.1,415.9 L535.2,413.9 L540.2,413.9 L547.8,416.9 L562.9,414.7 L580.5,415.7 L605.6,415.2 L615.7,412.7 L625.8,411.1 L633.3,409.4 L638.4,410.1 L671.1,410.1 L676.1,404.6 L681.2,404.6 L687.4,409.6 L695.0,410.1 L700.0,412.7 L711.4,413.4 L723.9,413.9 L730.2,415.9 L746.6,416.4 L755.4,418.2 L770.2,418.3 L776.7,420.6 L789.6,420.9 L796.1,423.6 L835.0,423.8 L838.2,428.0 L841.5,434.0 L846.7,434.0 L851.9,430.0 L855.8,423.6 L858.9,420.9 L864.9,415.0 L871.4,408.0 L879.2,398.9 L883.0,396.3 L888.2,389.8 L894.7,385.9 L902.5,381.5 L910.3,380.8 L918.0,377.6 L925.9,376.3 L933.7,374.8 L940.1,373.0 L944.6,372.2 L944.6,420.9 Z" fill="#ee1111" clip-path="url(#dn)"/>
<polyline points="0.0,409.9 7.5,413.4 20.0,413.4 27.0,415.4 65.4,415.4 70.0,402.8 75.0,402.8 83.0,406.6 88.0,407.1 93.6,412.9 105.7,412.9 117.0,415.9 131.0,416.9 146.0,417.9 158.6,419.2 176.2,419.2 187.5,419.9 191.3,420.9 196.8,425.5 229.5,425.5 231.0,420.9 234.0,412.4 245.4,412.4 255.0,408.8 265.0,409.6 280.2,409.4 286.5,411.4 300.3,410.9 309.1,408.1 314.1,404.6 319.2,406.1 335.5,405.9 341.8,404.6 389.7,404.6 393.4,407.1 403.5,407.1 408.5,406.4 413.6,406.6 418.6,408.9 426.2,408.4 431.2,411.1 438.7,411.4 446.3,413.2 453.8,411.9 463.9,410.4 469.0,411.1 479.0,414.4 487.8,415.2 492.9,414.7 497.9,415.9 530.1,415.9 535.2,413.9 540.2,413.9 547.8,416.9 562.9,414.7 580.5,415.7 605.6,415.2 615.7,412.7 625.8,411.1 633.3,409.4 638.4,410.1 671.1,410.1 676.1,404.6 681.2,404.6 687.4,409.6 695.0,410.1 700.0,412.7 711.4,413.4 723.9,413.9 730.2,415.9 746.6,416.4 755.4,418.2 770.2,418.3 776.7,420.6 789.6,420.9 796.1,423.6 835.0,423.8 838.2,428.0 841.5,434.0 846.7,434.0 851.9,430.0 855.8,423.6 858.9,420.9 864.9,415.0 871.4,408.0 879.2,398.9 883.0,396.3 888.2,389.8 894.7,385.9 902.5,381.5 910.3,380.8 918.0,377.6 925.9,376.3 933.7,374.8 940.1,373.0 944.6,372.2" fill="none" stroke="#12301f" stroke-width="1.0" stroke-linejoin="round" />
<line x1="0" y1="420.9" x2="944.6" y2="420.9" stroke="#2e8b57" stroke-width="0.6" stroke-dasharray="2 2" opacity="0.6"/>
<text x="5.8" y="12.8" font-size="8.4" fill="#131722" text-anchor="start" font-weight="normal" textLength="45.0" lengthAdjust="spacingAndGlyphs" >XAU/USD, 1D</text>
<text x="55.9" y="12.8" font-size="8.4" fill="#131722" text-anchor="start" font-weight="normal" textLength="5.0" lengthAdjust="spacingAndGlyphs" >O</text>
<text x="61.2" y="12.8" font-size="8.4" fill="#089981" text-anchor="start" font-weight="normal" textLength="27.8" lengthAdjust="spacingAndGlyphs" >4253.30</text>
<text x="93.9" y="12.8" font-size="8.4" fill="#131722" text-anchor="start" font-weight="normal" textLength="4.6" lengthAdjust="spacingAndGlyphs" >H</text>
<text x="98.8" y="12.8" font-size="8.4" fill="#089981" text-anchor="start" font-weight="normal" textLength="27.4" lengthAdjust="spacingAndGlyphs" >4355.68</text>
<text x="130.8" y="12.8" font-size="8.4" fill="#131722" text-anchor="start" font-weight="normal" textLength="3.6" lengthAdjust="spacingAndGlyphs" >L</text>
<text x="134.6" y="12.8" font-size="8.4" fill="#089981" text-anchor="start" font-weight="normal" textLength="27.2" lengthAdjust="spacingAndGlyphs" >4219.08</text>
<text x="166.7" y="12.8" font-size="8.4" fill="#131722" text-anchor="start" font-weight="normal" textLength="4.6" lengthAdjust="spacingAndGlyphs" >C</text>
<text x="171.5" y="12.8" font-size="8.4" fill="#089981" text-anchor="start" font-weight="normal" textLength="27.2" lengthAdjust="spacingAndGlyphs" >4347.69</text>
<text x="203.3" y="12.8" font-size="8.4" fill="#089981" text-anchor="start" font-weight="normal" textLength="55.0" lengthAdjust="spacingAndGlyphs" >+95.61 (+2.25%)</text>
<text x="5.8" y="24.1" font-size="8.4" fill="#131722" text-anchor="start" font-weight="normal" textLength="155.5" lengthAdjust="spacingAndGlyphs" >Moving Average Triple (50, 100, 200, Simple)</text>
<text x="166.0" y="24.1" font-size="8.4" fill="#f57c00" text-anchor="start" font-weight="normal" textLength="27.2" lengthAdjust="spacingAndGlyphs" >3695.31</text>
<text x="198.2" y="24.1" font-size="8.4" fill="#2196f3" text-anchor="start" font-weight="normal" textLength="27.2" lengthAdjust="spacingAndGlyphs" >3522.39</text>
<text x="230.4" y="24.1" font-size="8.4" fill="#00bcd4" text-anchor="start" font-weight="normal" textLength="27.2" lengthAdjust="spacingAndGlyphs" >3286.80</text>
<text x="5.8" y="35.4" font-size="8.4" fill="#131722" text-anchor="start" font-weight="normal" textLength="96.5" lengthAdjust="spacingAndGlyphs" >Pivots (Traditional, Daily, 1)</text>
<text x="5.5" y="377.8" font-size="8.4" fill="#131722" text-anchor="start" font-weight="normal" textLength="112.0" lengthAdjust="spacingAndGlyphs" >FXS Fed Sentiment Index (close)</text>
<text x="122.8" y="377.8" font-size="8.4" fill="#131722" text-anchor="start" font-weight="normal" textLength="22.8" lengthAdjust="spacingAndGlyphs" stroke="#131722" stroke-width="0.35">164.05</text>
<text x="151.0" y="377.8" font-size="8.4" fill="#b2b5be" text-anchor="start" font-weight="normal" textLength="22.8" lengthAdjust="spacingAndGlyphs" >100.00</text>
<text x="1026.8" y="355.2" font-size="8.4" fill="#131722" text-anchor="end" font-weight="normal" textLength="27.4" lengthAdjust="spacingAndGlyphs" stroke="#131722" stroke-width="0.18">2400.00</text>
<text x="1026.8" y="323.0" font-size="8.4" fill="#131722" text-anchor="end" font-weight="normal" textLength="27.4" lengthAdjust="spacingAndGlyphs" stroke="#131722" stroke-width="0.18">2600.00</text>
<text x="1026.8" y="291.2" font-size="8.4" fill="#131722" text-anchor="end" font-weight="normal" textLength="27.4" lengthAdjust="spacingAndGlyphs" stroke="#131722" stroke-width="0.18">2800.00</text>
<text x="1026.8" y="258.6" font-size="8.4" fill="#131722" text-anchor="end" font-weight="normal" textLength="27.4" lengthAdjust="spacingAndGlyphs" stroke="#131722" stroke-width="0.18">3000.00</text>
<text x="1026.8" y="226.9" font-size="8.4" fill="#131722" text-anchor="end" font-weight="normal" textLength="27.4" lengthAdjust="spacingAndGlyphs" stroke="#131722" stroke-width="0.18">3200.00</text>
<text x="1026.8" y="195.3" font-size="8.4" fill="#131722" text-anchor="end" font-weight="normal" textLength="27.4" lengthAdjust="spacingAndGlyphs" stroke="#131722" stroke-width="0.18">3400.00</text>
<text x="1026.8" y="163.7" font-size="8.4" fill="#131722" text-anchor="end" font-weight="normal" textLength="27.4" lengthAdjust="spacingAndGlyphs" stroke="#131722" stroke-width="0.18">3600.00</text>
<text x="1026.8" y="132.0" font-size="8.4" fill="#131722" text-anchor="end" font-weight="normal" textLength="27.4" lengthAdjust="spacingAndGlyphs" stroke="#131722" stroke-width="0.18">3800.00</text>
<text x="1026.8" y="100.4" font-size="8.4" fill="#131722" text-anchor="end" font-weight="normal" textLength="27.4" lengthAdjust="spacingAndGlyphs" stroke="#131722" stroke-width="0.18">4000.00</text>
<text x="1026.8" y="68.8" font-size="8.4" fill="#131722" text-anchor="end" font-weight="normal" textLength="27.4" lengthAdjust="spacingAndGlyphs" stroke="#131722" stroke-width="0.18">4200.00</text>
<text x="1026.8" y="37.1" font-size="8.4" fill="#131722" text-anchor="end" font-weight="normal" textLength="27.4" lengthAdjust="spacingAndGlyphs" stroke="#131722" stroke-width="0.18">4400.00</text>
<text x="1026.8" y="4.3" font-size="8.4" fill="#131722" text-anchor="end" font-weight="normal" textLength="27.4" lengthAdjust="spacingAndGlyphs" stroke="#131722" stroke-width="0.18">4600.00</text>
<text x="1023.2" y="409.1" font-size="8.4" fill="#131722" text-anchor="end" font-weight="normal" textLength="23.4" lengthAdjust="spacingAndGlyphs" stroke="#131722" stroke-width="0.18">120.00</text>
<text x="1019.2" y="439.1" font-size="8.4" fill="#131722" text-anchor="end" font-weight="normal" textLength="20.0" lengthAdjust="spacingAndGlyphs" stroke="#131722" stroke-width="0.18">80.00</text>
<rect x="994.2" y="36.5" width="36.4" height="11.4" fill="#089981" rx="1"/>
<text x="1013.5" y="45.2" font-size="8.4" fill="#ffffff" text-anchor="middle" font-weight="normal" textLength="27.2" lengthAdjust="spacingAndGlyphs" stroke="#ffffff" stroke-width="0.15">4347.69</text>
<rect x="994.2" y="140.1" width="36.4" height="11.4" fill="#f57c00" rx="1"/>
<text x="1013.5" y="148.8" font-size="8.4" fill="#ffffff" text-anchor="middle" font-weight="normal" textLength="27.2" lengthAdjust="spacingAndGlyphs" stroke="#ffffff" stroke-width="0.15">3695.31</text>
<rect x="994.2" y="167.7" width="36.4" height="11.0" fill="#2196f3" rx="1"/>
<text x="1013.5" y="176.2" font-size="8.4" fill="#ffffff" text-anchor="middle" font-weight="normal" textLength="27.2" lengthAdjust="spacingAndGlyphs" stroke="#ffffff" stroke-width="0.15">3522.39</text>
<rect x="994.2" y="178.7" width="36.4" height="11.2" fill="#2a5fe8" rx="1"/>
<text x="1013.5" y="187.3" font-size="8.4" fill="#ffffff" text-anchor="middle" font-weight="normal" textLength="27.2" lengthAdjust="spacingAndGlyphs" stroke="#ffffff" stroke-width="0.15">3452.72</text>
<rect x="994.2" y="205.7" width="36.4" height="11.0" fill="#22c3d6" rx="1"/>
<text x="1013.5" y="214.2" font-size="8.4" fill="#131722" text-anchor="middle" font-weight="normal" textLength="27.2" lengthAdjust="spacingAndGlyphs" stroke="#131722" stroke-width="0.15">3286.80</text>
<rect x="994.2" y="216.7" width="36.4" height="11.4" fill="#2a5fe8" rx="1"/>
<text x="1013.5" y="225.4" font-size="8.4" fill="#ffffff" text-anchor="middle" font-weight="normal" textLength="27.2" lengthAdjust="spacingAndGlyphs" stroke="#ffffff" stroke-width="0.15">3247.83</text>
<rect x="994.2" y="367.1" width="31.8" height="11.4" fill="#000000" rx="1"/>
<text x="1011.8" y="375.8" font-size="8.4" fill="#ffffff" text-anchor="middle" font-weight="normal" textLength="22.8" lengthAdjust="spacingAndGlyphs" stroke="#ffffff" stroke-width="0.15">164.05</text>
<rect x="994.2" y="415.0" width="31.8" height="11.7" fill="#adadad" rx="1"/>
<text x="1011.8" y="423.9" font-size="8.4" fill="#131722" text-anchor="middle" font-weight="normal" textLength="22.8" lengthAdjust="spacingAndGlyphs" stroke="#131722" stroke-width="0.15">100.00</text>
<text x="79.4" y="452.1" font-size="8.4" fill="#131722" text-anchor="middle" font-weight="normal" textLength="13.2" lengthAdjust="spacingAndGlyphs" stroke="#131722" stroke-width="0.2">Feb</text>
<text x="173.5" y="452.1" font-size="8.4" fill="#131722" text-anchor="middle" font-weight="normal" textLength="13.2" lengthAdjust="spacingAndGlyphs" stroke="#131722" stroke-width="0.2">Mar</text>
<text x="272.3" y="452.1" font-size="8.4" fill="#131722" text-anchor="middle" font-weight="normal" textLength="11.9" lengthAdjust="spacingAndGlyphs" stroke="#131722" stroke-width="0.2">Apr</text>
<text x="371.1" y="452.1" font-size="8.4" fill="#131722" text-anchor="middle" font-weight="normal" textLength="14.4" lengthAdjust="spacingAndGlyphs" stroke="#131722" stroke-width="0.2">May</text>
<text x="474.6" y="452.1" font-size="8.4" fill="#131722" text-anchor="middle" font-weight="normal" textLength="12.3" lengthAdjust="spacingAndGlyphs" stroke="#131722" stroke-width="0.2">Jun</text>
<text x="573.3" y="452.1" font-size="8.4" fill="#131722" text-anchor="middle" font-weight="normal" textLength="9.8" lengthAdjust="spacingAndGlyphs" stroke="#131722" stroke-width="0.2">Jul</text>
<text x="681.5" y="452.1" font-size="8.4" fill="#131722" text-anchor="middle" font-weight="normal" textLength="13.6" lengthAdjust="spacingAndGlyphs" stroke="#131722" stroke-width="0.2">Aug</text>
<text x="780.3" y="452.1" font-size="8.4" fill="#131722" text-anchor="middle" font-weight="normal" textLength="13.6" lengthAdjust="spacingAndGlyphs" stroke="#131722" stroke-width="0.2">Sep</text>
<text x="883.8" y="452.1" font-size="8.4" fill="#131722" text-anchor="middle" font-weight="normal" textLength="11.9" lengthAdjust="spacingAndGlyphs" stroke="#131722" stroke-width="0.2">Oct</text>
<text x="940.2" y="452.1" font-size="8.4" fill="#131722" text-anchor="middle" font-weight="normal" textLength="8.5" lengthAdjust="spacingAndGlyphs" stroke="#131722" stroke-width="0.2">17</text>
</svg>
</body></html>
